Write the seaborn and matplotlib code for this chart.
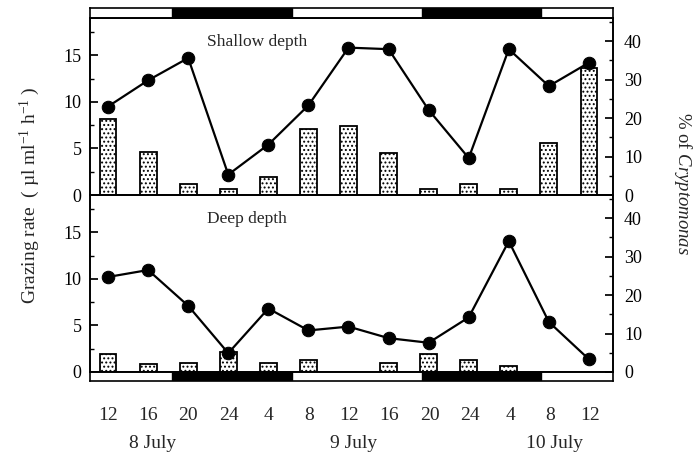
import seaborn as sns
import matplotlib.pyplot as plt
import matplotlib.ticker as mticker
import pandas as pd
import numpy as np

# sampling times (hour of day) over 8-10 July
hours = ['12', '16', '20', '24', '4', '8', '12', '16', '20', '24', '4', '8', '12']
dates = ['8 July', '9 July', '10 July']
date_slots = [1, 6, 11]

# grazing rate (bars, left axis)
shallow_grazing = [8.2, 4.6, 1.2, 0.6, 1.9, 7.1, 7.4, 4.5, 0.6, 1.2, 0.6, 5.6, 13.6]
deep_grazing = [1.9, 0.9, 1.0, 2.2, 1.0, 1.3, 0.0, 1.0, 1.9, 1.3, 0.6, 0.0, 0.0]

# % of Cryptomonas (line, right axis)
shallow_crypto = [23.0, 29.8, 35.6, 5.3, 13.1, 23.3, 38.3, 37.9, 22.1, 9.6, 37.9, 28.3, 34.4]
deep_crypto = [24.7, 26.5, 17.2, 4.9, 16.5, 10.8, 11.8, 8.8, 7.6, 14.2, 34.0, 13.0, 3.3]

# dark periods (in sampling-slot units)
dark_start = [1.6, 7.84]
dark_end = [4.6, 10.8]

sns.set_theme(style='white')
plt.rcParams['font.family'] = ['Liberation Serif', 'DejaVu Serif']
plt.rcParams['mathtext.fontset'] = 'custom'
plt.rcParams['mathtext.rm'] = 'Liberation Serif'
plt.rcParams['mathtext.it'] = 'Liberation Serif:italic'
plt.rcParams['hatch.linewidth'] = 0.9

slots = np.arange(len(hours))
xlim = (-0.45, 12.6)

fig = plt.figure(figsize=(6.94, 4.55), dpi=100)
left, width = 90 / 694, 523 / 694
ax_top = fig.add_axes([left, 1 - 195 / 455, width, 177 / 455])
ax_bot = fig.add_axes([left, 1 - 372 / 455, width, 177 / 455])
bar_top = fig.add_axes([left, 1 - 17.5 / 455, width, 10 / 455])
bar_bot = fig.add_axes([left, 1 - 381 / 455, width, 9 / 455])

panels = [(ax_top, shallow_grazing, shallow_crypto, 'Shallow depth', 257),
          (ax_bot, deep_grazing, deep_crypto, 'Deep depth', 247)]

for ax, grazing, crypto, title, tx in panels:
    df = pd.DataFrame({'slot': slots, 'grazing': grazing, 'crypto': crypto})
    sns.barplot(data=df, x='slot', y='grazing', ax=ax, color='white',
                edgecolor='black', linewidth=1.3, width=0.42, hatch='....')
    ax.set_xlim(*xlim)
    ax.set_ylim(0, 19)
    ax.yaxis.set_major_locator(mticker.MultipleLocator(5))
    ax.yaxis.set_minor_locator(mticker.MultipleLocator(2.5))
    ax.tick_params(axis='y', which='both', direction='in', left=True,
                   labelsize=13, colors='black', pad=6)
    ax.tick_params(axis='y', which='major', length=6)
    ax.tick_params(axis='y', which='minor', length=3)
    ax.set_xticks([])
    ax.set_xlabel('')
    ax.set_ylabel('')
    for s in ax.spines.values():
        s.set_color('black')
        s.set_linewidth(1.2)

    ax2 = ax.twinx()
    sns.lineplot(data=df, x='slot', y='crypto', ax=ax2, color='black',
                 marker='o', markersize=9, linewidth=1.6,
                 markeredgecolor='black')
    ax2.set_xlim(*xlim)
    ax2.set_ylim(0, 46)
    ax2.yaxis.set_major_locator(mticker.MultipleLocator(10))
    ax2.yaxis.set_minor_locator(mticker.MultipleLocator(5))
    ax2.tick_params(axis='y', which='both', direction='in', right=True,
                    labelsize=13, colors='black', pad=8)
    ax2.tick_params(axis='y', which='major', length=6)
    ax2.tick_params(axis='y', which='minor', length=3)
    ax2.set_ylabel('')
    ax2.set_xlabel('')
    for s in ax2.spines.values():
        s.set_color('black')
        s.set_linewidth(1.2)

    ax.text((tx - 90) / 523, 0.84, title, transform=ax.transAxes,
            fontsize=12.5, ha='center')

# light / dark bars
for bax in [bar_top, bar_bot]:
    bax.set_xlim(*xlim)
    bax.set_ylim(0, 1)
    for s0, s1 in zip(dark_start, dark_end):
        bax.axvspan(s0, s1, color='black')
    bax.set_xticks([])
    bax.set_yticks([])
    for s in bax.spines.values():
        s.set_color('black')
        s.set_linewidth(1.2)

# hour labels and dates
for i, h in enumerate(hours):
    fig.text((108 + 40.2 * i) / 694, 1 - 415 / 455, h, ha='center',
             va='center', fontsize=14)
for d, s in zip(dates, date_slots):
    fig.text((108 + 40.2 * s + 4) / 694, 1 - 443 / 455, d, ha='center',
             va='center', fontsize=14)

fig.text(30 / 694, 1 - 195 / 455,
         'Grazing rate  ( µl ml$^{-1}$ h$^{-1}$ )', rotation=90,
         ha='center', va='center', fontsize=14)
fig.text(683 / 694, 1 - 184 / 455, '% of $\\it{Cryptomonas}$',
         rotation=270, ha='center', va='center', fontsize=13.5)

fig.savefig('out.png', dpi=100)
